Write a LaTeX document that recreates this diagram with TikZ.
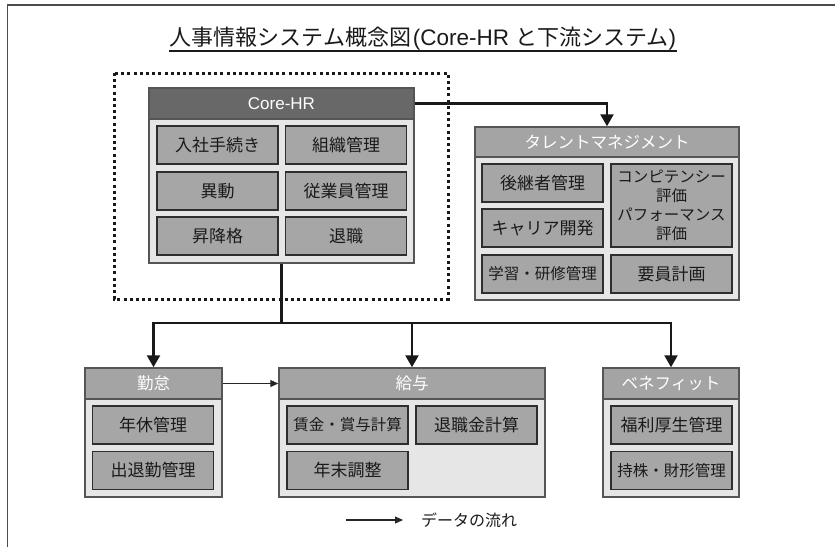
\documentclass[tikz,border=0pt]{standalone}
\usepackage{fontspec}
\setmainfont{Liberation Sans}
\newfontfamily\jp{Noto Sans CJK JP}
\usetikzlibrary{arrows.meta}
\definecolor{cellfill}{HTML}{A6A6A6}
\definecolor{bodyfill}{HTML}{E6E6E6}
\definecolor{darkhead}{HTML}{686868}
\definecolor{lighthead}{HTML}{A4A4A4}
\definecolor{edge}{HTML}{2E2E2E}
\definecolor{bodyedge}{HTML}{555555}
\definecolor{ink}{HTML}{1A1A1A}
\tikzset{
  body/.style={draw=bodyedge, line width=1.5pt, fill=bodyfill, inner sep=0pt, minimum height=129pt},
  headbox/.style={draw=bodyedge, line width=1.5pt, fill=lighthead, inner sep=0pt, minimum height=31pt, text=white, font=\jp\fontsize{16.5}{18}\selectfont},
  cell/.style={draw=edge, line width=1.3pt, fill=cellfill, inner sep=0pt, minimum width=121pt, minimum height=38pt, text=ink, font=\jp\fontsize{17}{19}\selectfont},
  cellsm/.style={cell, font=\jp\fontsize{15.5}{19}\selectfont},
  bigarrow/.style={draw=black!90, line width=2.4pt, -{Triangle[width=13pt,length=12pt]}},
  bigline/.style={draw=black!90, line width=2.4pt},
  thinarrow/.style={draw=black!85, line width=1.1pt, -{Triangle[width=7pt,length=8pt]}},
  dotbox/.style={draw=black!90, line width=3pt, dash pattern=on 3pt off 3.2pt},
  frameline/.style={draw=black!70, line width=1.6pt}
}
\begin{document}
\begin{tikzpicture}[x=1pt,y=-1pt]
\useasboundingbox (0,0) rectangle (835,547);
% outer frame (left and top only)
\draw[frameline] (7.5,547) -- (7.5,5) -- (835,5);
% title
\node[inner sep=0pt, text=ink] (title) at (423,39)
  {{\jp\fontsize{22}{24}\selectfont 人事情報システム概念図}\,{\fontsize{22.5}{24}\selectfont (Core-HR }{\jp\fontsize{22}{24}\selectfont と下流システム}{\fontsize{22.5}{24}\selectfont )}};
\coordinate (ulL) at (169,51);
\coordinate (ulR) at (677,51);
\draw[draw=ink, line width=1.4pt] (ulL) -- (ulR);
% dotted area
\draw[dotbox] (114,73) rectangle (448,299);
% Core-HR
\node[body, minimum width=265pt, minimum height=175pt] (corebody) at (281.5,175.5) {};
\node[headbox, fill=darkhead, minimum width=265pt, font=\fontsize{17}{19}\selectfont] (corehead) at (281.5,103.5) {Core-HR};
\node[cell] (c1) at (217.5,145) {入社手続き};
\node[cell] (c2) at (346,145) {組織管理};
\node[cell] (c3) at (217.5,191) {異動};
\node[cell] (c4) at (346,191) {従業員管理};
\node[cell] (c5) at (217.5,236) {昇降格};
\node[cell] (c6) at (346,236) {退職};
% Talent management
\node[body, minimum width=264pt, minimum height=173pt] (tmbody) at (607,213.5) {};
\node[headbox, minimum width=264pt, minimum height=30pt] (tmhead) at (607,142) {タレントマネジメント};
\node[cell] (t1) at (542.5,183) {後継者管理};
\node[cell] (t2) at (542.5,228) {キャリア開発};
\node[cellsm] (t3) at (542.5,274) {学習・研修管理};
\node[cellsm, minimum height=83pt, align=center] (t4) at (671.5,205.5) {コンピテンシー\\評価\\パフォーマンス\\評価};
\node[cell] (t5) at (671.5,274) {要員計画};
% Kintai
\node[body, minimum width=137pt] (kinbody) at (153.5,432.5) {};
\node[headbox, minimum width=137pt] (kinhead) at (153.5,383.5) {勤怠};
\node[cell] (k1) at (153,425) {年休管理};
\node[cell] (k2) at (153,470.5) {出退勤管理};
% Kyuyo
\node[body, minimum width=266pt] (kyubody) at (412,432.5) {};
\node[headbox, minimum width=266pt] (kyuhead) at (412,383.5) {給与};
\node[cellsm] (y1) at (347.5,425) {賃金・賞与計算};
\node[cell] (y2) at (476.5,425) {退職金計算};
\node[cell] (y3) at (347.5,470.5) {年末調整};
% Benefit
\node[body, minimum width=136pt] (benbody) at (671,432.5) {};
\node[headbox, minimum width=136pt] (benhead) at (671,383.5) {ベネフィット};
\node[cell] (b1) at (671.5,425) {福利厚生管理};
\node[cellsm] (b2) at (671.5,470.5) {持株・財形管理};
% connectors
\draw[bigarrow] (corehead.east) -| (tmhead.north);
\coordinate (j) at (281.5,323);
\draw[bigline] (corebody.south) -- (j);
\draw[bigarrow] (j) -| (kinhead.north);
\draw[bigarrow] (j) -| (kyuhead.north);
\draw[bigarrow] (j) -| (benhead.north);
\draw[thinarrow] (kinhead.east) -- (kyuhead.west);
% legend
\coordinate (legA) at (346,520);
\coordinate (legB) at (403,520);
\draw[thinarrow] (legA) -- (legB);
\node[anchor=west, inner sep=0pt, text=ink, font=\jp\fontsize{16}{18}\selectfont] (legtext) at (421,520) {データの流れ};
\end{tikzpicture}
\end{document}
